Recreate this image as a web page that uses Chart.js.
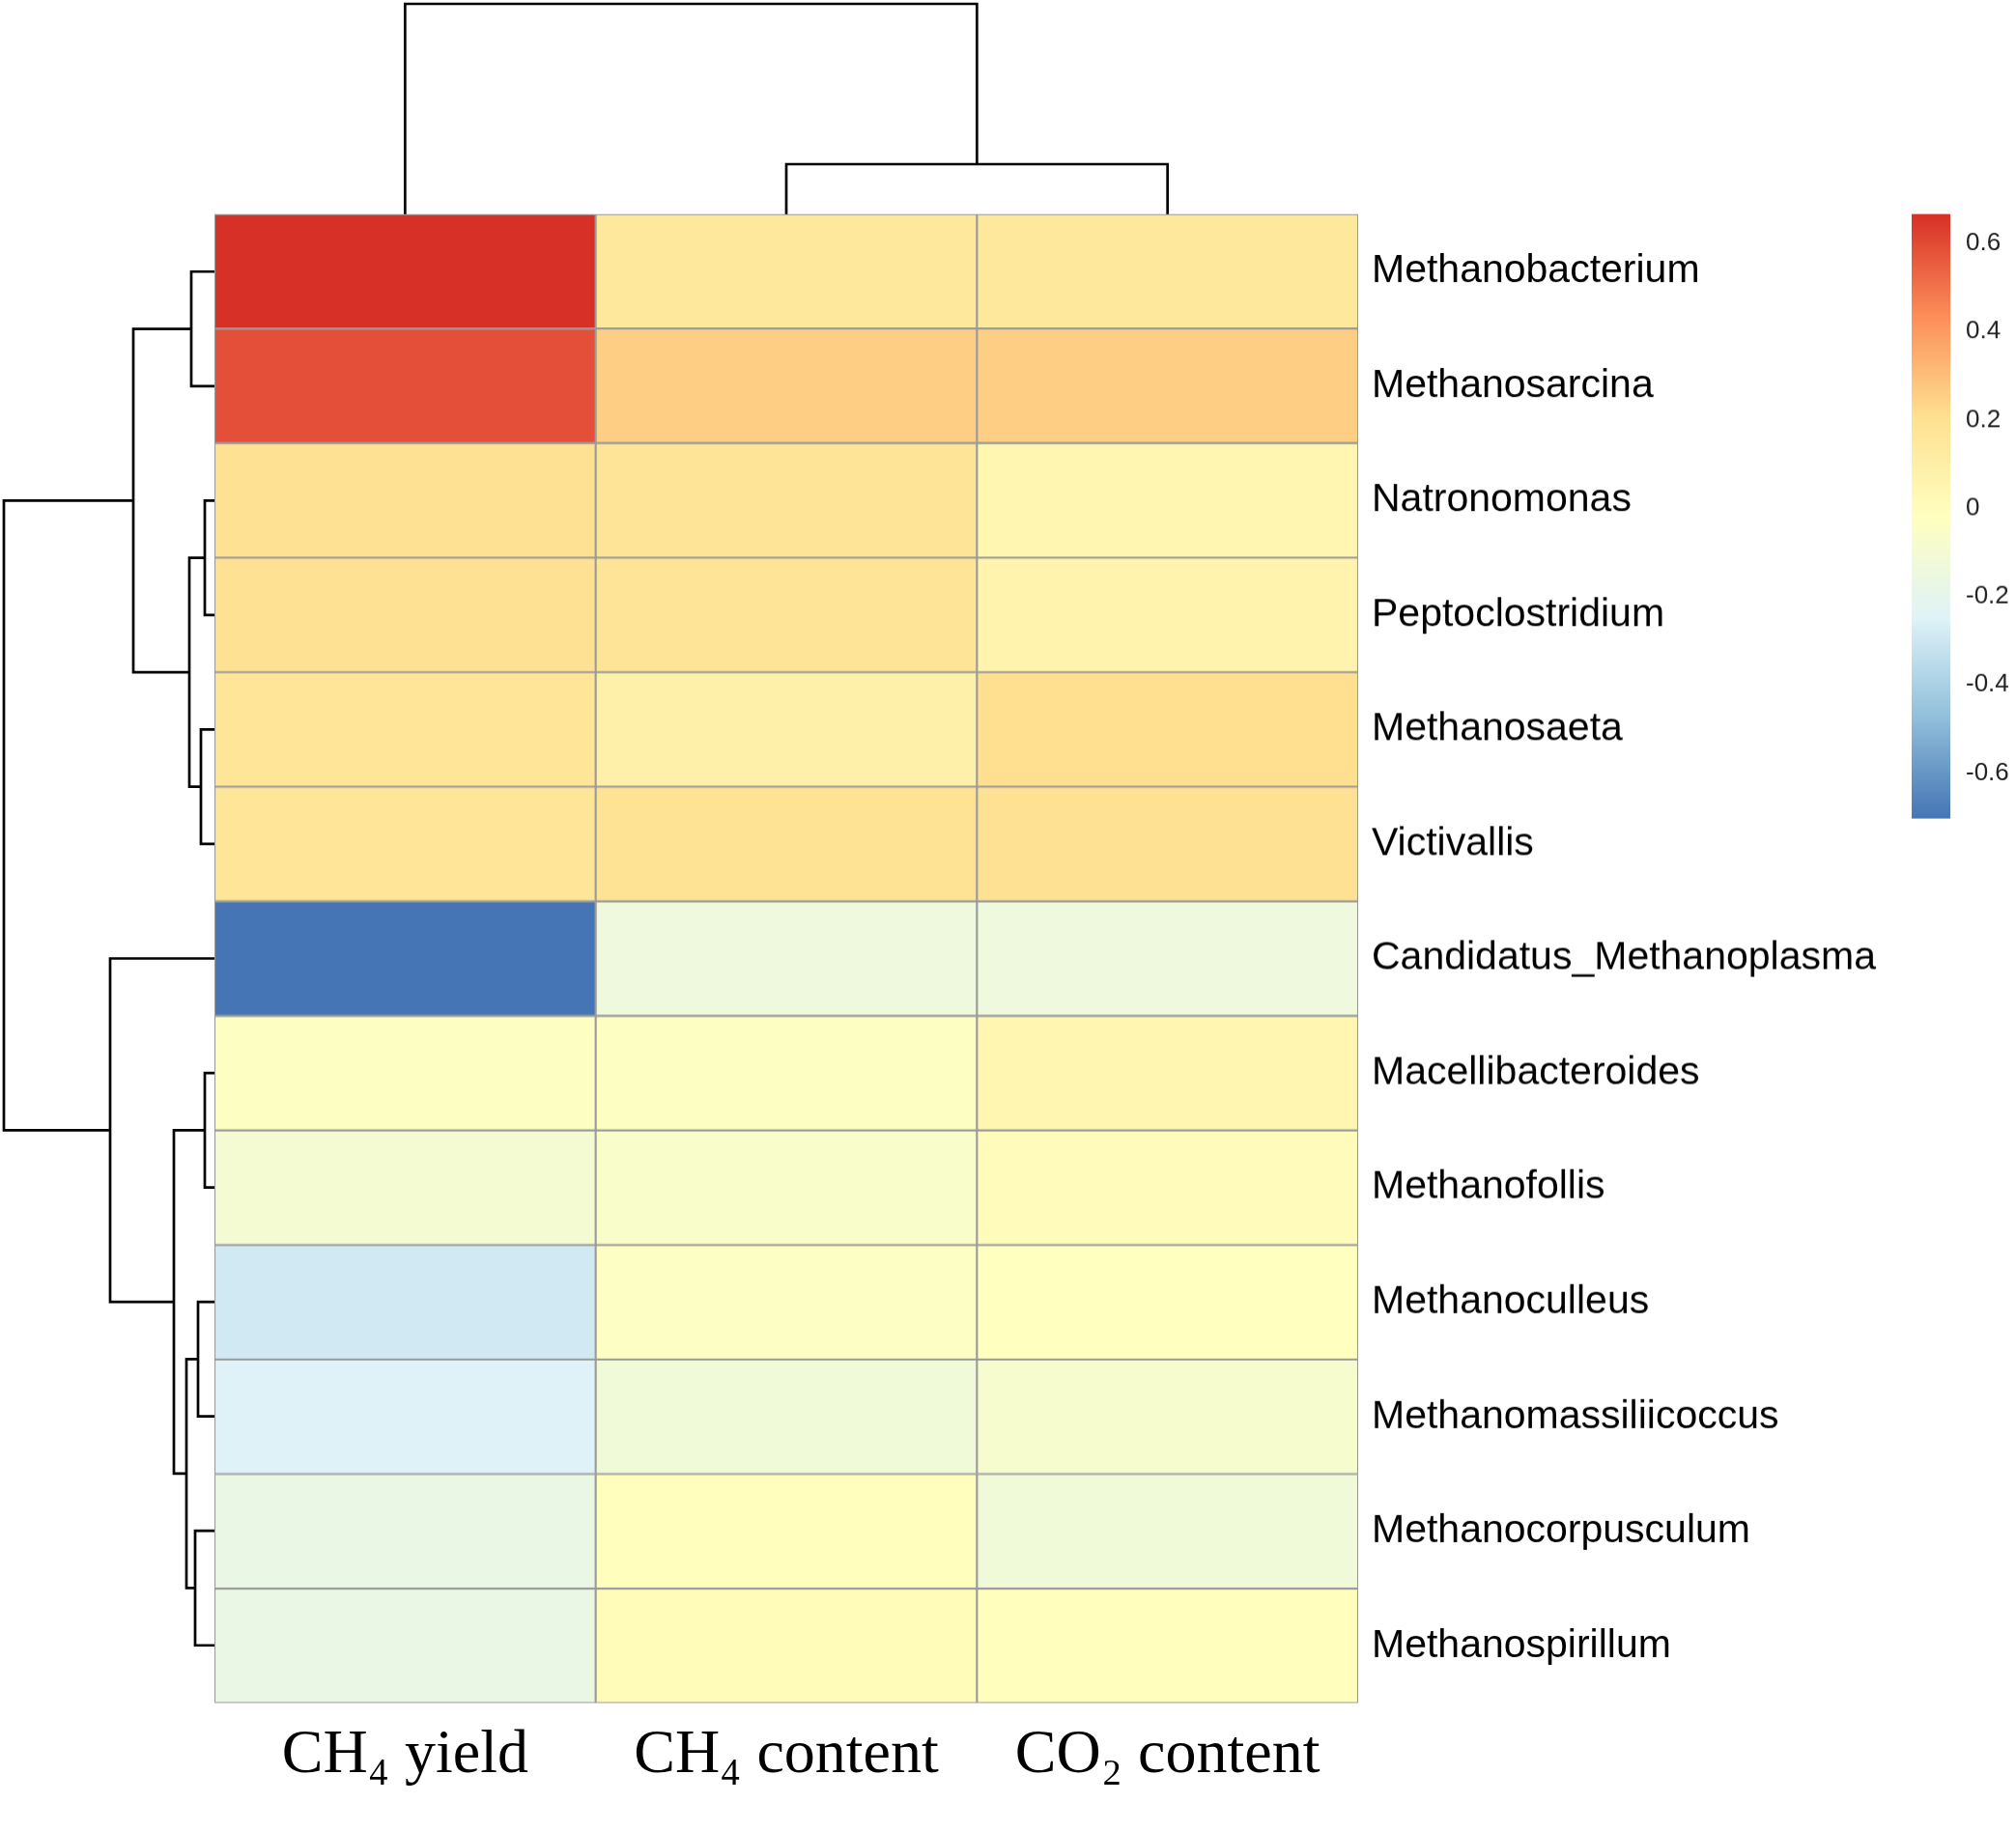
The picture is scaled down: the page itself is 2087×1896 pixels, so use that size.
<!DOCTYPE html>
<html>
<head>
<meta charset="utf-8">
<script src="https://cdn.jsdelivr.net/npm/chart.js@4"></script>
<style>
  body { margin: 0; background: #fff; }
  #wrap { position: relative; width: 2087px; height: 1896px; }
  canvas { position: absolute; }
</style>
</head>
<body>
<div id="wrap">
  <canvas id="colDendro" width="1184" height="222" style="left:222px;top:0px"></canvas>
  <canvas id="rowDendro" width="222" height="1541" style="left:0px;top:222px"></canvas>
  <canvas id="heat" width="1744" height="1671" style="left:222px;top:222px"></canvas>
  <canvas id="legendBar" width="108" height="665" style="left:1979px;top:202px"></canvas>
</div>
<script>
// ---- data ----
const rowLabels = ['Methanobacterium', 'Methanosarcina', 'Natronomonas', 'Peptoclostridium',
  'Methanosaeta', 'Victivallis', 'Candidatus_Methanoplasma', 'Macellibacteroides',
  'Methanofollis', 'Methanoculleus', 'Methanomassiliicoccus', 'Methanocorpusculum', 'Methanospirillum'];
const colLabels = ['CH\u2084 yield', 'CH\u2084 content', 'CO\u2082 content'];

const ch4Yield   = [0.666, 0.59, 0.20, 0.20, 0.17, 0.17, -0.703, -0.03, -0.10, -0.29, -0.25, -0.17, -0.17];
const ch4Content = [0.15, 0.26, 0.18, 0.18, 0.09, 0.19, -0.14, -0.03, -0.06, -0.04, -0.12, -0.01, 0.01];
const co2Content = [0.15, 0.26, 0.05, 0.07, 0.21, 0.20, -0.14, 0.05, 0.00, -0.02, -0.08, -0.12, -0.01];

// hclust style merges: negative = leaf (1-based), positive = earlier merge; last = height
const rowMerge = [[-1, -2, 0.24], [-3, -4, 0.10], [-5, -6, 0.14], [2, 3, 0.26], [1, 4, 0.84],
  [-8, -9, 0.10], [-10, -11, 0.17], [-12, -13, 0.20], [7, 8, 0.29], [6, 9, 0.42],
  [-7, 10, 1.08], [5, 11, 2.18]];
const colMerge = [[-2, -3, 0.52], [-1, 1, 2.18]];

const colorbarTicks = [-0.6, -0.4, -0.2, 0, 0.2, 0.4, 0.6];
const palette = ['#4575B4', '#91BFDB', '#E0F3F8', '#FFFFBF', '#FEE090', '#FC8D59', '#D73027'];

const columns = [ch4Yield, ch4Content, co2Content];
const allVals = columns.flat();
const vMin = Math.min(...allVals), vMax = Math.max(...allVals);

function hex2rgb(h) {
  return [1, 3, 5].map(i => parseInt(h.substr(i, 2), 16));
}
function colorFor(v) {
  let t = (v - vMin) / (vMax - vMin);
  t = Math.max(0, Math.min(1, t)) * (palette.length - 1);
  const i = Math.min(Math.floor(t), palette.length - 2);
  const f = t - i;
  const a = hex2rgb(palette[i]), b = hex2rgb(palette[i + 1]);
  const c = a.map((x, k) => Math.round(x + (b[k] - x) * f));
  return 'rgb(' + c.join(',') + ')';
}

function dendroSegments(merges) {
  const nodes = [];
  const get = k => k < 0 ? { pos: -k - 0.5, h: 0 } : nodes[k - 1];
  const segs = [];
  merges.forEach(([a, b, h]) => {
    const A = get(a), B = get(b);
    segs.push([[A.pos, A.h], [A.pos, h], [B.pos, h], [B.pos, B.h]]);
    nodes.push({ pos: (A.pos + B.pos) / 2, h: h });
  });
  return segs;
}

// move/resize a chart's canvas so its plot area sits at [top, top+height]
function pinArea(chart, top, height) {
  const cv = chart.canvas;
  const dTop = chart.chartArea.top;
  const dBot = chart.height - chart.chartArea.bottom;
  cv.style.top = (top - dTop) + 'px';
  chart.resize(chart.width, dTop + height + dBot);
}

Chart.defaults.font.family = '"Liberation Sans", Arial, sans-serif';
Chart.defaults.color = '#000';
Chart.defaults.maintainAspectRatio = false;

const lineStyle = { showLine: true, borderColor: '#000', borderWidth: 2.7, pointRadius: 0, clip: false };
const noPlugins = { legend: { display: false }, tooltip: { enabled: false } };
const dendroMax = 2.22;

// ---- column dendrogram ----
new Chart(document.getElementById('colDendro'), {
  type: 'scatter',
  data: {
    datasets: dendroSegments(colMerge).map(s => Object.assign({
      data: s.map(([p, h]) => ({ x: p, y: h }))
    }, lineStyle))
  },
  options: {
    responsive: false, animation: false, layout: { padding: 0 },
    plugins: noPlugins,
    scales: {
      x: { type: 'linear', min: 0, max: colLabels.length, display: false },
      y: { type: 'linear', min: 0, max: dendroMax, display: false }
    }
  }
});

// ---- row dendrogram ----
new Chart(document.getElementById('rowDendro'), {
  type: 'scatter',
  data: {
    datasets: dendroSegments(rowMerge).map(s => Object.assign({
      data: s.map(([p, h]) => ({ x: h, y: p }))
    }, lineStyle))
  },
  options: {
    responsive: false, animation: false, layout: { padding: 0 },
    plugins: noPlugins,
    scales: {
      x: { type: 'linear', min: 0, max: dendroMax, reverse: true, display: false },
      y: { type: 'linear', min: 0, max: rowLabels.length, reverse: true, display: false }
    }
  }
});

// ---- heatmap ----
const heat = new Chart(document.getElementById('heat'), {
  type: 'bar',
  data: {
    labels: rowLabels,
    datasets: columns.map((vals, j) => ({
      data: vals.map(() => [j, j + 1]),
      backgroundColor: vals.map(colorFor),
      borderColor: '#9a9a9a',
      borderWidth: 1.4,
      borderSkipped: false,
      grouped: false,
      barPercentage: 1,
      categoryPercentage: 1
    }))
  },
  options: {
    indexAxis: 'y',
    responsive: false, animation: false, layout: { padding: 0 },
    plugins: noPlugins,
    scales: {
      x: {
        type: 'linear', min: 0, max: colLabels.length,
        grid: { display: false, drawTicks: false }, border: { display: false },
        afterBuildTicks: axis => { axis.ticks = colLabels.map((_, i) => ({ value: i + 0.5 })); },
        afterFit: axis => { axis.height = 130; },
        ticks: {
          autoSkip: false, maxRotation: 0, padding: 16,
          font: { family: '"Liberation Serif", "Times New Roman", serif', size: 64 },
          callback: v => colLabels[Math.floor(v)]
        }
      },
      y: {
        position: 'right',
        grid: { display: false, drawTicks: false }, border: { display: false },
        afterFit: axis => { axis.width = 560; },
        ticks: { padding: 14, font: { size: 41 } }
      }
    }
  }
});
pinArea(heat, 222, 1541);

// ---- colour key ----
const gradientPlugin = {
  id: 'gradientBar',
  beforeDatasetsDraw(chart) {
    const { ctx, chartArea } = chart;
    const ys = chart.scales.y;
    const yTop = ys.getPixelForValue(vMax), yBot = ys.getPixelForValue(vMin);
    const g = ctx.createLinearGradient(0, yBot, 0, yTop);
    palette.forEach((c, i) => g.addColorStop(i / (palette.length - 1), c));
    ctx.save();
    ctx.fillStyle = g;
    ctx.fillRect(chartArea.left, yTop, chartArea.right - chartArea.left, yBot - yTop);
    ctx.restore();
  }
};
const key = new Chart(document.getElementById('legendBar'), {
  type: 'scatter',
  data: { datasets: [{ data: [] }] },
  plugins: [gradientPlugin],
  options: {
    responsive: false, animation: false,
    layout: { padding: 0 },
    plugins: noPlugins,
    scales: {
      x: { display: false, min: 0, max: 1 },
      y: {
        position: 'right', min: vMin, max: vMax,
        grid: { display: false, drawTicks: false }, border: { display: false },
        afterBuildTicks: axis => { axis.ticks = colorbarTicks.map(v => ({ value: v })); },
        afterFit: axis => { axis.width = 68; },
        ticks: { padding: 16, color: '#222', font: { size: 26 }, callback: v => String(v) }
      }
    }
  }
});
pinArea(key, 222, 625);
</script>
</body>
</html>
